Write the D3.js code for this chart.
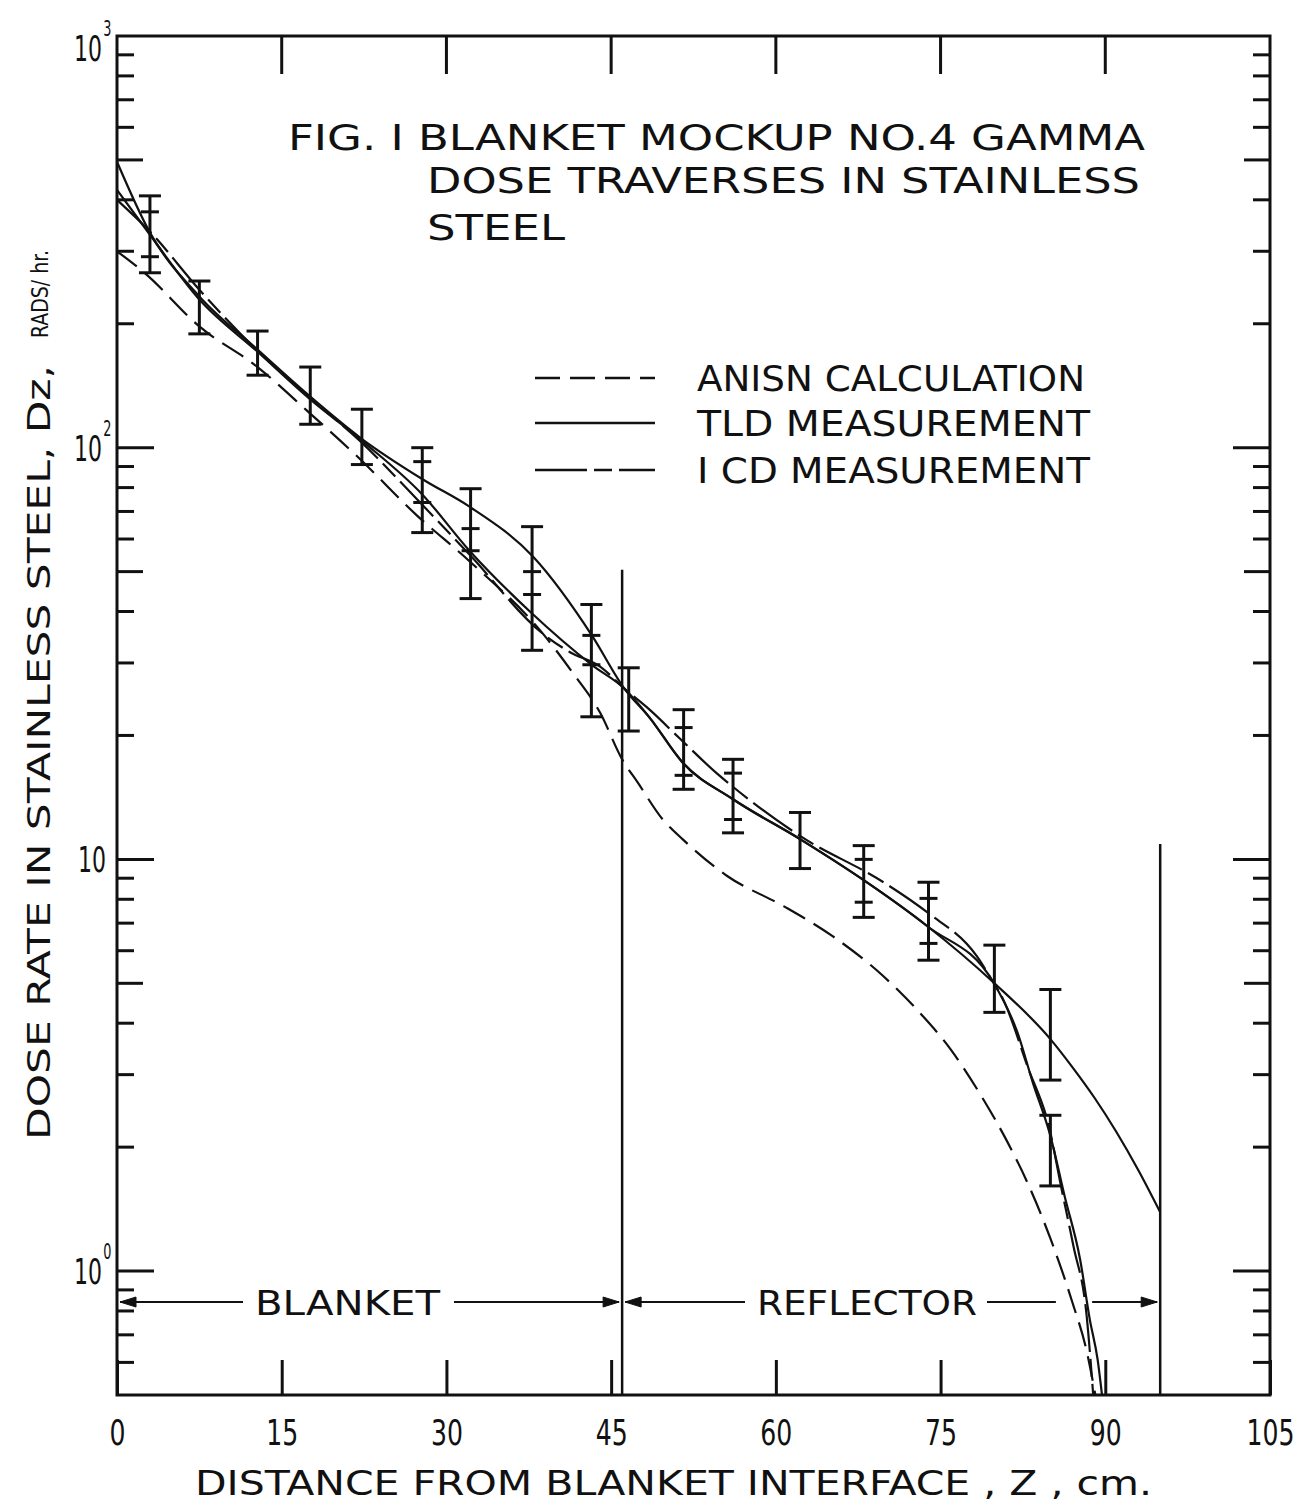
<!DOCTYPE html>
<html>
<head>
<meta charset="utf-8">
<script src="https://cdn.jsdelivr.net/npm/d3@7"></script>
<style>
body { margin: 0; background: #fff; }
text { font-family: "DejaVu Sans Condensed", "Liberation Sans Narrow", "DejaVu Sans", sans-serif; fill: #111; }
</style>
</head>
<body>
<svg id="chart" width="1314" height="1505"></svg>
<script>
'use strict';

// axis ticks and labels
var xTicks = [0, 15, 30, 45, 60, 75, 90, 105];
var xTickLabels = ['0', '15', '30', '45', '60', '75', '90', '105'];
var yLabelValues = [1000, 100, 10, 1];
var yLabelBase = ['10', '10', '10', '10'];
var yLabelExp = ['3', '2', '', '0'];

// ANISN calculation (short dashes)
var anisnZ = [0, 2.5, 7.5, 12.8, 17.3, 22.1, 27.3, 32.1, 38.8, 41.5, 44, 46, 47.4, 49.7, 51.5, 55.6, 60.7, 65.2, 69.8, 72.9, 75.9, 78.9, 81, 83, 85, 87, 88.3, 89.1];
var anisnD = [300, 266, 197, 157, 123, 94, 68.5, 53, 35.3, 28.4, 22.7, 17.5, 15.4, 12.5, 11.2, 9.1, 7.7, 6.5, 5.2, 4.3, 3.46, 2.61, 2.08, 1.62, 1.2, 0.84, 0.64, 0.5];

// TLD measurement, upper solid curve
var tldUpperZ = [0, 3, 7.5, 12.8, 17.6, 22.1, 27.9, 32.1, 37.9, 43.3, 46.2, 48.5, 51.5, 56.1, 62.2, 67.9, 73.8, 79.8, 85, 87, 89, 91, 93, 95];
var tldUpperD = [495, 333, 233, 173, 133, 106, 83.6, 71.9, 54.3, 34.8, 26, 22.1, 17.2, 14.0, 11.2, 8.94, 6.88, 5.03, 3.66, 3.13, 2.64, 2.18, 1.76, 1.39];

// TLD measurement, solid curve through the bars
var tldLowerZ = [0, 3, 7.5, 12.8, 17.6, 22.1, 27.8, 32.1, 37.6, 43.3, 46.2, 48.5, 51.5, 56.1, 62.2, 67.9, 73.8, 79.8, 82, 83.4, 85, 86.3, 87.7, 88.6, 89.3, 89.7];
var tldLowerD = [423, 329, 229, 171, 131, 105, 77, 56.2, 40, 29.6, 26, 22.1, 17.2, 14.0, 11.2, 8.94, 6.88, 5.03, 3.80, 2.87, 2.13, 1.52, 1.07, 0.76, 0.61, 0.5];

// ICD measurement (long dashes)
var icdZ = [0, 3, 7.5, 12.8, 17.6, 22.1, 27.6, 32.1, 38.8, 41.3, 44, 46.2, 48.5, 51.3, 54.6, 56.1, 62.2, 69.8, 73.8, 78.3, 79.8, 80.7, 82.9, 85, 85.9, 87.1, 88.3, 88.9];
var icdD = [400, 335, 242, 172, 132, 104, 73.6, 55, 35.3, 31.8, 29.4, 26, 23.1, 19.6, 16.2, 15.0, 11.4, 8.8, 7.43, 5.82, 5.03, 4.57, 3.15, 2.17, 1.64, 1.15, 0.78, 0.5];

// error bars (outer)
var barZ = [3, 7.5, 12.8, 17.6, 22.3, 27.8, 32.2, 37.8, 43.2, 46.6, 51.6, 56.1, 62.2, 68, 73.9, 79.9, 85, 85];
var barLo = [266, 189, 150, 114, 91, 62.2, 43, 32.2, 22.2, 20.5, 14.8, 11.6, 9.5, 7.23, 5.69, 4.25, 2.91, 1.61];
var barHi = [409, 254, 192, 157, 124, 100, 79.5, 64.3, 41.6, 29.2, 23.1, 17.5, 13.0, 10.8, 8.8, 6.19, 4.83, 2.39];

// inner bar ends
var innerZ = [3, 27.8, 32.2, 37.8, 43.2, 51.6, 56.1, 68, 73.9];
var innerLo = [291, 73.6, 56.2, 44, 29.7, 16.0, 12.5, 7.87, 6.25];
var innerHi = [374, 92.5, 63.6, 50, 35, 20.9, 16.2, 10.0, 8.04];

// region boundaries
var boundaryZ = [46, 95];
var boundaryTop = [50.5, 10.9];
var regionNames = ['BLANKET', 'REFLECTOR'];
var regionStart = [0, 46];
var regionEnd = [46, 95];

var svg = d3.select('#chart');
var x = d3.scaleLinear().domain([0, 105]).range([117, 1270]);
var y = d3.scaleLog().domain([0.5, 1000]).range([1395, 36]);
var ink = '#111';

// frame
svg.append('rect')
  .attr('x', x(0)).attr('y', y(1000))
  .attr('width', x(105) - x(0)).attr('height', y(0.5) - y(1000))
  .attr('fill', 'none').attr('stroke', ink).attr('stroke-width', 3);

// log ticks on both sides
var logTicks = [];
[-1, 0, 1, 2].forEach(function(d) {
  for (var m = 1; m <= 9; m++) {
    var v = m * Math.pow(10, d);
    if (v > 0.5 && v <= 1000) logTicks.push({v: v, m: m});
  }
});
function tickLen(d) { return d.m === 1 ? 37 : (d.m === 5 ? 26 : 17); }

svg.selectAll('.ltick').data(logTicks).enter().append('line')
  .attr('x1', x(0)).attr('x2', function(d) { return x(0) + tickLen(d); })
  .attr('y1', function(d) { return y(d.v); }).attr('y2', function(d) { return y(d.v); })
  .attr('stroke', ink).attr('stroke-width', 3);
svg.selectAll('.rtick').data(logTicks).enter().append('line')
  .attr('x1', x(105)).attr('x2', function(d) { return x(105) - tickLen(d); })
  .attr('y1', function(d) { return y(d.v); }).attr('y2', function(d) { return y(d.v); })
  .attr('stroke', ink).attr('stroke-width', 3);

// top ticks
svg.selectAll('.ttick').data(xTicks.slice(1, -1)).enter().append('line')
  .attr('x1', function(d) { return x(d); }).attr('x2', function(d) { return x(d); })
  .attr('y1', y(1000)).attr('y2', y(1000) + 38)
  .attr('stroke', ink).attr('stroke-width', 3);

// bottom axis (ticks point inward)
var xAxis = d3.axisBottom(x).tickValues(xTicks)
  .tickFormat(function(d, i) { return xTickLabels[i]; })
  .tickSizeInner(-35).tickSizeOuter(0).tickPadding(24);
var gx = svg.append('g').attr('transform', 'translate(0,' + y(0.5) + ')').call(xAxis);
gx.select('.domain').remove();
gx.selectAll('line').attr('stroke', ink).attr('stroke-width', 3);
gx.selectAll('text')
  .attr('font-size', 36)
  .attr('textLength', function(d, i) { return xTickLabels[i].length * 16; })
  .attr('lengthAdjust', 'spacingAndGlyphs')
  .style('fill', ink);

// y labels with exponents, squeezed horizontally like the lettering
var yl = svg.selectAll('.ylab').data(yLabelValues).enter().append('text')
  .attr('transform', function(d, i) {
    return 'translate(' + (yLabelExp[i] ? 74 : 78) + ',' + (Math.max(y(d), 48) + 13) + ') scale(0.68,1)';
  })
  .attr('font-size', 36);
yl.append('tspan').text(function(d, i) { return yLabelBase[i]; });
yl.append('tspan').attr('font-size', 21).attr('dy', -25).attr('dx', 2)
  .text(function(d, i) { return yLabelExp[i]; });

// boundary lines
svg.selectAll('.bound').data(boundaryZ).enter().append('line')
  .attr('x1', function(d) { return x(d); }).attr('x2', function(d) { return x(d); })
  .attr('y1', function(d, i) { return y(boundaryTop[i]); }).attr('y2', y(0.5))
  .attr('stroke', ink).attr('stroke-width', 2.5);

// curves
var line = d3.line()
  .x(function(d) { return x(d[0]); })
  .y(function(d) { return y(d[1]); })
  .curve(d3.curveMonotoneX);
function pairs(zs, ds) { return zs.map(function(z, i) { return [z, ds[i]]; }); }

var series = [
  {z: anisnZ, d: anisnD, dash: '25,10'},
  {z: tldUpperZ, d: tldUpperD, dash: null},
  {z: tldLowerZ, d: tldLowerD, dash: null},
  {z: icdZ, d: icdD, dash: '48,7,18,7'}
];
svg.selectAll('.curve').data(series).enter().append('path')
  .attr('d', function(s) { return line(pairs(s.z, s.d)); })
  .attr('fill', 'none').attr('stroke', ink).attr('stroke-width', 2.2)
  .attr('stroke-dasharray', function(s) { return s.dash; });

// error bars
function drawBars(zs, lo, hi, cap, drawStem) {
  var g = svg.append('g').attr('stroke', ink).attr('stroke-width', 3);
  zs.forEach(function(z, i) {
    if (drawStem) {
      g.append('line').attr('x1', x(z)).attr('x2', x(z)).attr('y1', y(lo[i])).attr('y2', y(hi[i]));
    }
    [lo[i], hi[i]].forEach(function(v) {
      g.append('line').attr('x1', x(z) - cap / 2).attr('x2', x(z) + cap / 2)
        .attr('y1', y(v)).attr('y2', y(v));
    });
  });
}
drawBars(barZ, barLo, barHi, 22, true);
drawBars(innerZ, innerLo, innerHi, 18, false);

// region labels with arrows
var ay = 1302;
function arrowHead(px, dir) {
  svg.append('path')
    .attr('d', 'M' + px + ',' + ay + 'l' + (-dir * 16) + ',-5l0,10z')
    .attr('fill', ink).attr('stroke', ink).attr('stroke-width', 1);
}
function hseg(a, b) {
  svg.append('line').attr('x1', a).attr('x2', b).attr('y1', ay).attr('y2', ay)
    .attr('stroke', ink).attr('stroke-width', 2.2);
}
var labelSpans = [[255, 440], [757, 977]];
regionNames.forEach(function(name, i) {
  var a = x(regionStart[i]) + 3, b = x(regionEnd[i]) - 3;
  svg.append('text').attr('x', labelSpans[i][0]).attr('y', ay + 13)
    .attr('font-size', 33).attr('textLength', labelSpans[i][1] - labelSpans[i][0])
    .attr('lengthAdjust', 'spacingAndGlyphs').text(name);
  hseg(a, labelSpans[i][0] - 12);
  if (i === 1) {
    hseg(labelSpans[i][1] + 10, x(85.5));
    hseg(x(88.8), b);
  } else {
    hseg(labelSpans[i][1] + 14, b);
  }
  arrowHead(a, -1);
  arrowHead(b, 1);
});

// title
var titleLines = ['FIG. I  BLANKET  MOCKUP  NO.4  GAMMA', 'DOSE  TRAVERSES  IN  STAINLESS', 'STEEL'];
var titleX = [288, 427, 427];
var titleY = [150, 193, 240];
var titleLen = [857, 713, 138];
titleLines.forEach(function(t, i) {
  svg.append('text').attr('x', titleX[i]).attr('y', titleY[i])
    .attr('font-size', 36).attr('textLength', titleLen[i])
    .attr('lengthAdjust', 'spacingAndGlyphs').text(t);
});

// legend
var legendNames = ['ANISN  CALCULATION', 'TLD  MEASUREMENT', 'I CD  MEASUREMENT'];
var legendDash = ['25,10', null, '52,7,18,7'];
var legendY = [378, 423, 470];
legendNames.forEach(function(t, i) {
  svg.append('line').attr('x1', 535).attr('x2', 655)
    .attr('y1', legendY[i]).attr('y2', legendY[i])
    .attr('stroke', ink).attr('stroke-width', 2.4)
    .attr('stroke-dasharray', legendDash[i]);
  svg.append('text').attr('x', 697).attr('y', legendY[i] + 13)
    .attr('font-size', 35).attr('textLength', i === 0 ? 388 : 393)
    .attr('lengthAdjust', 'spacingAndGlyphs').text(t);
});

// axis titles
svg.append('text').attr('x', 195).attr('y', 1495)
  .attr('font-size', 33).attr('textLength', 957).attr('lengthAdjust', 'spacingAndGlyphs')
  .text('DISTANCE  FROM  BLANKET  INTERFACE ,  Z ,  cm.');

svg.append('text').attr('transform', 'translate(50,1140) rotate(-90)')
  .attr('font-size', 32).attr('textLength', 775).attr('lengthAdjust', 'spacingAndGlyphs')
  .text('DOSE RATE IN STAINLESS  STEEL, Dz,');
svg.append('text').attr('transform', 'translate(48,338) rotate(-90)')
  .attr('font-size', 23).attr('textLength', 88).attr('lengthAdjust', 'spacingAndGlyphs')
  .text('RADS/ hr.');
</script>
</body>
</html>
